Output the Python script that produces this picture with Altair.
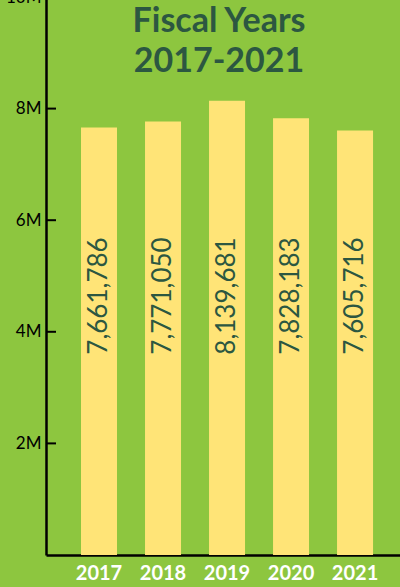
import altair as alt
import pandas as pd

years = ["2017", "2018", "2019", "2020", "2021"]
values = [7661786, 7771050, 8139681, 7828183, 7605716]
labels = ["7,661,786", "7,771,050", "8,139,681", "7,828,183", "7,605,716"]
tick_values = [2000000, 4000000, 6000000, 8000000, 10000000]
title_line1 = "Fiscal Years"
title_line2 = "2017-2021"

BG = "#8dc63f"
BAR = "#ffe477"
DARK = "#2c5741"
FONT = "Lato"

df = pd.DataFrame({"year": years, "value": values, "label": labels})
ticks_df = pd.DataFrame({"v": tick_values})

W, H = 354, 558

x_enc = alt.X(
    "year:N",
    sort=years,
    scale=alt.Scale(paddingInner=0.4375, paddingOuter=0.484, align=0.565),
    axis=alt.Axis(
        title=None, labelAngle=0, ticks=False, domain=True, domainColor="black",
        domainWidth=2.5, labelColor="white", labelFont=FONT, labelFontSize=20,
        labelFontWeight="bold", labelPadding=8, labelBaseline="top",
    ),
)
y_scale = alt.Scale(domain=[0, 10000000], nice=False)
y_enc = alt.Y(
    "value:Q",
    scale=y_scale,
    axis=alt.Axis(
        title=None, values=tick_values, format="~s", ticks=False, grid=False,
        domain=True, domainColor="black", domainWidth=2.5, labelColor="black",
        labelFont=FONT, labelFontSize=17, labelPadding=5,
        labelExpr="replace(datum.label, 'M', '') + 'M'",
    ),
)

bars = alt.Chart(df).mark_bar(color=BAR).encode(x=x_enc, y=y_enc)

bar_text = alt.Chart(df).mark_text(
    angle=270, align="center", baseline="middle", font=FONT, fontSize=26,
    color=DARK,
).encode(x=alt.X("year:N", sort=years), y=alt.value(299), text="label:N")

tick_rules = alt.Chart(ticks_df).mark_rule(color="black", strokeWidth=2).encode(
    y=alt.Y("v:Q", scale=y_scale), x=alt.value(0), x2=alt.value(10)
)

t1 = alt.Chart(pd.DataFrame({"t": [title_line1]})).mark_text(
    font=FONT, fontSize=34, fontWeight="bold", color=DARK, align="center",
    baseline="alphabetic",
).encode(text="t:N", x=alt.value(173), y=alt.value(35))

t2 = alt.Chart(pd.DataFrame({"t": [title_line2]})).mark_text(
    font=FONT, fontSize=34, fontWeight="bold", color=DARK, align="center",
    baseline="alphabetic",
).encode(text="t:N", x=alt.value(173), y=alt.value(75))

chart = alt.layer(bars, bar_text, tick_rules, t1, t2).properties(
    width=W, height=H,
    background=BG,
    padding={"left": 46, "top": -3, "right": 0, "bottom": 32},
    autosize=alt.AutoSizeParams(type="none"),
).configure_view(stroke=None).configure_axis(grid=False)

chart.save("out.html", embed_options={"renderer": "svg", "actions": False})
